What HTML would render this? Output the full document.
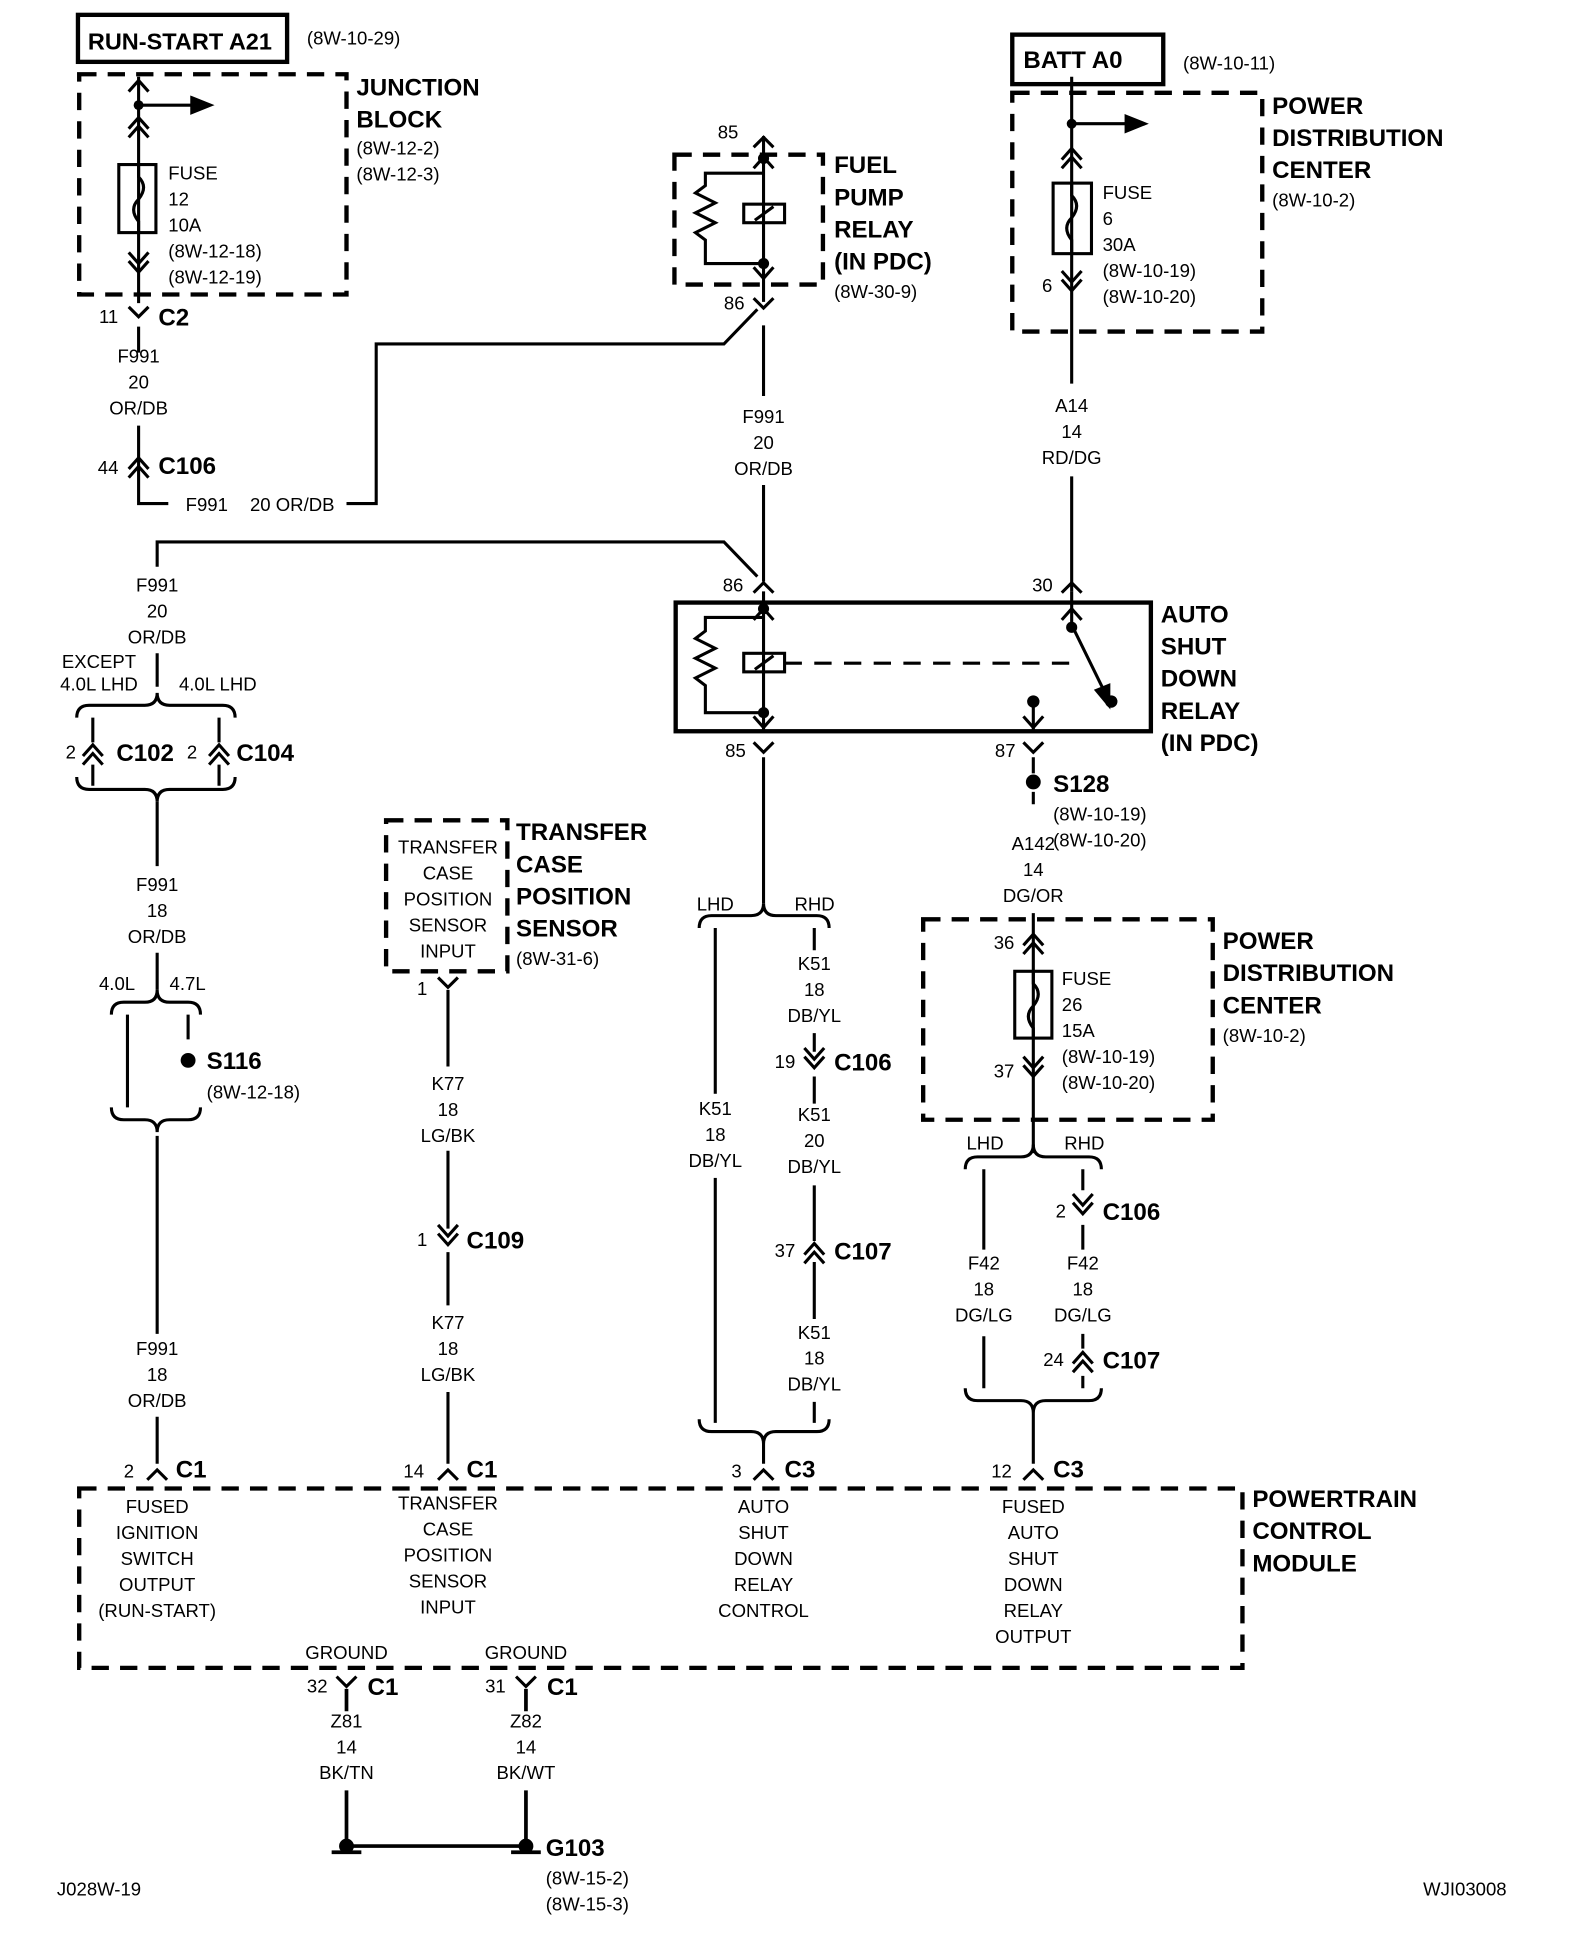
<!DOCTYPE html>
<html><head><meta charset="utf-8"><style>
html,body{margin:0;padding:0;background:#fff}
svg{display:block}
text{font-family:"Liberation Sans",sans-serif;font-size:15px;fill:#000}
.b{font-weight:bold;font-size:19.5px}
.m{text-anchor:middle}
</style></head><body>
<svg width="1584" height="1950" viewBox="0 0 1280 1576" preserveAspectRatio="none" xmlns="http://www.w3.org/2000/svg">
<defs>
<g id="du" fill="none" stroke="#000" stroke-width="2.5"><path d="M-8,4 L0,-5 L8,4 M-8,11 L0,2 L8,11"/></g>
<g id="dd" fill="none" stroke="#000" stroke-width="2.5"><path d="M-8,-4 L0,5 L8,-4 M-8,-11 L0,-2 L8,-11"/></g>
<g id="u1" fill="none" stroke="#000" stroke-width="2.5"><path d="M-8,6 L0,-3 L8,6"/></g>
<g id="d1" fill="none" stroke="#000" stroke-width="2.5"><path d="M-8,-6 L0,3 L8,-6"/></g>
<g id="Y" fill="none" stroke="#000" stroke-width="2.5"><path d="M-8,-7 L0,1 L8,-7"/></g>
<g id="A" fill="none" stroke="#000" stroke-width="2.5"><path d="M-8,7 L0,-1 L8,7"/></g>
</defs>
<g fill="none" stroke="#000" stroke-width="2.5">
<rect x="63" y="12" width="169" height="38" stroke-width="3.5"/>
<rect x="64" y="60" width="216" height="178" stroke-width="3.5" stroke-dasharray="14,9"/>
<path d="M112,62 V245 M112,264 V285 M112,344 V400 M112,385 V407 H136 M280,407 H304 V278 H585 L612,250"/>
<path d="M112,85 H160"/><path d="M155,79 L170,85 L155,91Z" fill="#000"/>
<rect x="96" y="133" width="30" height="55"/>
<path d="M112,133 V143 q8,8 0,18 q-8,8 0,18 V188" />
<rect x="545" y="125" width="120" height="105" stroke-width="3.5" stroke-dasharray="14,9"/>
<path d="M617,110 V244 M617,263 V320 M617,392 V470"/>
<path d="M617,140 H570 V150 l-8,6 l16,8 l-16,8 l16,8 l-16,8 l8,6 V213 H617"/>
<rect x="601" y="165" width="33" height="15"/><path d="M610,178 L625,167"/>
<path d="M127,458 V438 H585 L612,466"/>
<rect x="546" y="487" width="384" height="104" stroke-width="3.5"/>
<path d="M617,478 V592 M617,612 V730"/>
<path d="M617,499 H570 V510 l-8,6 l16,8 l-16,8 l16,8 l-16,8 l8,6 V576 H617"/>
<rect x="601" y="528" width="33" height="15"/><path d="M610,541 L625,530"/>
<path d="M634,536 H870" stroke-dasharray="14,10"/>
<path d="M866,478 V505 L893,560"/><path d="M886,558 L896,570 L896,554Z" fill="#000"/>
<path d="M835,567 V592 M835,612 V625 M835,640 V650"/>
<path d="M866,478 V385 M866,62 V310"/>
<rect x="818" y="28" width="122" height="40" stroke-width="3.5"/>
<rect x="818" y="75" width="202" height="193" stroke-width="3.5" stroke-dasharray="14,9"/>
<path d="M866,100 H915"/><path d="M910,94 L925,100 L910,106Z" fill="#000"/>
<rect x="851" y="148" width="31" height="57"/>
<path d="M866,148 V158 q8,8 0,18 q-8,8 0,18 V205"/>
<rect x="746" y="743" width="234" height="162" stroke-width="3.5" stroke-dasharray="14,9"/>
<path d="M835,738 V932"/>
<rect x="820" y="785" width="30" height="54"/>
<path d="M835,785 V795 q8,8 0,18 q-8,8 0,18 V839"/>
<path d="M780,945 q0,-10 10,-10 H825 q10,0 10,-10 q0,10 10,10 H880 q10,0 10,10"/>
<path d="M795,945 V1010 M795,1080 V1122 M875,945 V962 M875,990 V1010 M875,1078 V1090 M875,1112 V1122"/>
<path d="M780,1122 q0,10 10,10 H825 q10,0 10,10 q0,-10 10,-10 H880 q10,0 10,-10"/>
<path d="M835,1142 V1183"/>
<path d="M565,750 q0,-10 10,-10 H607 q10,0 10,-10 q0,10 10,10 H660 q10,0 10,10"/>
<path d="M578,750 V1150 M658,750 V768 M658,835 V850 M658,870 V892 M658,958 V1003 M658,1020 V1066 M658,1133 V1150"/>
<path d="M565,1147 q0,10 10,10 H607 q10,0 10,10 q0,-10 10,-10 H660 q10,0 10,-10"/>
<path d="M617,1167 V1183"/>
<path d="M127,528 V545 M127,545 V555"/>
<path d="M62,580 q0,-10 10,-10 H117 q10,0 10,-10 q0,10 10,10 H180 q10,0 10,10"/>
<path d="M75,580 V600 M75,618 V635 M177,580 V600 M177,618 V635"/>
<path d="M62,628 q0,10 10,10 H117 q10,0 10,10 q0,-10 10,-10 H180 q10,0 10,-10"/>
<path d="M127,648 V700 M127,770 V800"/>
<path d="M90,820 q0,-10 10,-10 H117 q10,0 10,-10 q0,10 10,10 H152 q10,0 10,10"/>
<path d="M103,820 V895 M152,820 V840"/>
<path d="M90,895 q0,10 10,10 H117 q10,0 10,10 q0,-10 10,-10 H152 q10,0 10,-10"/>
<path d="M127,918 V1078 M127,1145 V1183"/>
<rect x="312" y="663" width="98" height="122" stroke-width="3.5" stroke-dasharray="14,9"/>
<path d="M362,800 V862 M362,930 V993 M362,1012 V1055 M362,1125 V1183"/>
<rect x="64" y="1203" width="940" height="145" stroke-width="3.5" stroke-dasharray="14,9"/>
<path d="M280,1365 V1383 M280,1447 V1490 M425,1365 V1383 M425,1447 V1490 M280,1492 H425" stroke-width="3"/>
<path d="M268,1497 H292 M413,1497 H437" stroke-width="3"/>
</g>
<rect x="560" y="884" width="36" height="68" fill="#fff"/>
<g fill="#000">
<circle cx="112" cy="85" r="4"/><circle cx="617" cy="128" r="4.5"/><circle cx="617" cy="213" r="4.5"/>
<circle cx="617" cy="492" r="4.5"/><circle cx="617" cy="576" r="4.5"/><circle cx="866" cy="507" r="4.5"/>
<circle cx="898" cy="567" r="5"/><circle cx="835" cy="567" r="5"/><circle cx="866" cy="100" r="4"/>
<circle cx="835" cy="632" r="6"/><circle cx="152" cy="857" r="6"/>
<circle cx="280" cy="1492" r="6"/><circle cx="425" cy="1492" r="6"/>
</g>
<use href="#u1" x="112" y="68"/><use href="#du" x="112" y="100"/><use href="#dd" x="112" y="215"/>
<use href="#Y" x="112" y="255"/><use href="#du" x="112" y="375"/>
<use href="#A" x="617" y="112"/><use href="#u1" x="617" y="130"/><use href="#d1" x="617" y="222"/><use href="#Y" x="617" y="248"/>
<use href="#A" x="617" y="472"/><use href="#u1" x="617" y="495"/><use href="#d1" x="617" y="585"/><use href="#Y" x="617" y="607"/>
<use href="#A" x="866" y="472"/><use href="#u1" x="866" y="495"/><use href="#d1" x="835" y="585"/><use href="#Y" x="835" y="607"/>
<use href="#du" x="866" y="125"/><use href="#dd" x="866" y="230"/>
<use href="#du" x="835" y="760"/><use href="#dd" x="835" y="865"/>
<use href="#dd" x="875" y="976"/><use href="#du" x="875" y="1098"/><use href="#A" x="835" y="1189"/>
<use href="#dd" x="658" y="858"/><use href="#du" x="658" y="1010"/><use href="#A" x="617" y="1189"/>
<use href="#du" x="75" y="607"/><use href="#du" x="177" y="607"/><use href="#A" x="127" y="1189"/>
<use href="#Y" x="362" y="797"/><use href="#dd" x="362" y="1001"/><use href="#A" x="362" y="1189"/>
<use href="#Y" x="280" y="1362"/><use href="#Y" x="425" y="1362"/>
<text class="b" x="71" y="40" style="font-size:19px">RUN-START A21</text>
<text x="248" y="36">(8W-10-29)</text>
<text class="b" x="288" y="77">JUNCTION</text><text class="b" x="288" y="103">BLOCK</text>
<text x="288" y="125">(8W-12-2)</text><text x="288" y="146">(8W-12-3)</text>
<text x="136" y="145">FUSE</text><text x="136" y="166">12</text><text x="136" y="187">10A</text><text x="136" y="208">(8W-12-18)</text><text x="136" y="229">(8W-12-19)</text>
<text x="80" y="261">11</text><text class="b" x="128" y="263">C2</text>
<text class="m" x="112" y="293">F991</text><text class="m" x="112" y="314">20</text><text class="m" x="112" y="335">OR/DB</text>
<text x="79" y="383">44</text><text class="b" x="128" y="383">C106</text>
<text x="150" y="413">F991</text><text x="202" y="413">20 OR/DB</text>
<text x="580" y="112">85</text><text x="585" y="250">86</text>
<text class="b" x="674" y="140">FUEL</text><text class="b" x="674" y="166">PUMP</text><text class="b" x="674" y="192">RELAY</text><text class="b" x="674" y="218">(IN PDC)</text>
<text x="674" y="241">(8W-30-9)</text>
<text class="m" x="617" y="342">F991</text><text class="m" x="617" y="363">20</text><text class="m" x="617" y="384">OR/DB</text>
<text class="b" x="827" y="55">BATT A0</text><text x="956" y="56">(8W-10-11)</text>
<text class="b" x="1028" y="92">POWER</text><text class="b" x="1028" y="118">DISTRIBUTION</text><text class="b" x="1028" y="144">CENTER</text><text x="1028" y="167">(8W-10-2)</text>
<text x="891" y="161">FUSE</text><text x="891" y="182">6</text><text x="891" y="203">30A</text><text x="891" y="224">(8W-10-19)</text><text x="891" y="245">(8W-10-20)</text>
<text x="842" y="236">6</text>
<text class="m" x="866" y="333">A14</text><text class="m" x="866" y="354">14</text><text class="m" x="866" y="375">RD/DG</text>
<text class="m" x="127" y="478">F991</text><text class="m" x="127" y="499">20</text><text class="m" x="127" y="520">OR/DB</text>
<text x="584" y="478">86</text><text x="834" y="478">30</text>
<text class="b" x="938" y="503">AUTO</text><text class="b" x="938" y="529">SHUT</text><text class="b" x="938" y="555">DOWN</text><text class="b" x="938" y="581">RELAY</text><text class="b" x="938" y="607">(IN PDC)</text>
<text x="586" y="612">85</text><text x="804" y="612">87</text>
<text class="b" x="851" y="640">S128</text><text x="851" y="663">(8W-10-19)</text><text x="851" y="684">(8W-10-20)</text>
<text class="m" x="835" y="687">A142</text><text class="m" x="835" y="708">14</text><text class="m" x="835" y="729">DG/OR</text>
<text x="803" y="767">36</text><text x="803" y="871">37</text>
<text x="858" y="796">FUSE</text><text x="858" y="817">26</text><text x="858" y="838">15A</text><text x="858" y="859">(8W-10-19)</text><text x="858" y="880">(8W-10-20)</text>
<text class="b" x="988" y="767">POWER</text><text class="b" x="988" y="793">DISTRIBUTION</text><text class="b" x="988" y="819">CENTER</text><text x="988" y="842">(8W-10-2)</text>
<text x="781" y="929">LHD</text><text x="860" y="929">RHD</text>
<text x="853" y="984">2</text><text class="b" x="891" y="986">C106</text>
<text class="m" x="795" y="1026">F42</text><text class="m" x="795" y="1047">18</text><text class="m" x="795" y="1068">DG/LG</text>
<text class="m" x="875" y="1026">F42</text><text class="m" x="875" y="1047">18</text><text class="m" x="875" y="1068">DG/LG</text>
<text x="843" y="1104">24</text><text class="b" x="891" y="1106">C107</text>
<text x="801" y="1194">12</text><text class="b" x="851" y="1194">C3</text>
<text x="563" y="736">LHD</text><text x="642" y="736">RHD</text>
<text class="m" x="658" y="784">K51</text><text class="m" x="658" y="805">18</text><text class="m" x="658" y="826">DB/YL</text>
<text x="626" y="863">19</text><text class="b" x="674" y="865">C106</text>
<text class="m" x="658" y="906">K51</text><text class="m" x="658" y="927">20</text><text class="m" x="658" y="948">DB/YL</text>
<text x="626" y="1016">37</text><text class="b" x="674" y="1018">C107</text>
<text class="m" x="658" y="1082">K51</text><text class="m" x="658" y="1103">18</text><text class="m" x="658" y="1124">DB/YL</text>
<text class="m" x="578" y="901">K51</text><text class="m" x="578" y="922">18</text><text class="m" x="578" y="943">DB/YL</text>
<text x="591" y="1194">3</text><text class="b" x="634" y="1194">C3</text>
<text class="m" x="80" y="540">EXCEPT</text><text class="m" x="80" y="558">4.0L LHD</text><text class="m" x="176" y="558">4.0L LHD</text>
<text x="53" y="613">2</text><text class="b" x="94" y="615">C102</text><text x="151" y="613">2</text><text class="b" x="191" y="615">C104</text>
<text class="m" x="127" y="720">F991</text><text class="m" x="127" y="741">18</text><text class="m" x="127" y="762">OR/DB</text>
<text x="80" y="800">4.0L</text><text x="137" y="800">4.7L</text>
<text class="b" x="167" y="864">S116</text><text x="167" y="888">(8W-12-18)</text>
<text class="m" x="127" y="1095">F991</text><text class="m" x="127" y="1116">18</text><text class="m" x="127" y="1137">OR/DB</text>
<text x="100" y="1194">2</text><text class="b" x="142" y="1194">C1</text>
<text class="m" x="362" y="690">TRANSFER</text><text class="m" x="362" y="711">CASE</text><text class="m" x="362" y="732">POSITION</text><text class="m" x="362" y="753">SENSOR</text><text class="m" x="362" y="774">INPUT</text>
<text class="b" x="417" y="679">TRANSFER</text><text class="b" x="417" y="705">CASE</text><text class="b" x="417" y="731">POSITION</text><text class="b" x="417" y="757">SENSOR</text><text x="417" y="780">(8W-31-6)</text>
<text x="337" y="804">1</text>
<text class="m" x="362" y="881">K77</text><text class="m" x="362" y="902">18</text><text class="m" x="362" y="923">LG/BK</text>
<text x="337" y="1007">1</text><text class="b" x="377" y="1009">C109</text>
<text class="m" x="362" y="1074">K77</text><text class="m" x="362" y="1095">18</text><text class="m" x="362" y="1116">LG/BK</text>
<text x="326" y="1194">14</text><text class="b" x="377" y="1194">C1</text>
<text class="m" x="127" y="1223">FUSED</text><text class="m" x="127" y="1244">IGNITION</text><text class="m" x="127" y="1265">SWITCH</text><text class="m" x="127" y="1286">OUTPUT</text><text class="m" x="127" y="1307">(RUN-START)</text>
<text class="m" x="362" y="1220">TRANSFER</text><text class="m" x="362" y="1241">CASE</text><text class="m" x="362" y="1262">POSITION</text><text class="m" x="362" y="1283">SENSOR</text><text class="m" x="362" y="1304">INPUT</text>
<text class="m" x="617" y="1223">AUTO</text><text class="m" x="617" y="1244">SHUT</text><text class="m" x="617" y="1265">DOWN</text><text class="m" x="617" y="1286">RELAY</text><text class="m" x="617" y="1307">CONTROL</text>
<text class="m" x="835" y="1223">FUSED</text><text class="m" x="835" y="1244">AUTO</text><text class="m" x="835" y="1265">SHUT</text><text class="m" x="835" y="1286">DOWN</text><text class="m" x="835" y="1307">RELAY</text><text class="m" x="835" y="1328">OUTPUT</text>
<text class="b" x="1012" y="1218">POWERTRAIN</text><text class="b" x="1012" y="1244">CONTROL</text><text class="b" x="1012" y="1270">MODULE</text>
<text class="m" x="280" y="1341">GROUND</text><text class="m" x="425" y="1341">GROUND</text>
<text x="248" y="1368">32</text><text class="b" x="297" y="1370">C1</text><text x="392" y="1368">31</text><text class="b" x="442" y="1370">C1</text>
<text class="m" x="280" y="1396">Z81</text><text class="m" x="280" y="1417">14</text><text class="m" x="280" y="1438">BK/TN</text>
<text class="m" x="425" y="1396">Z82</text><text class="m" x="425" y="1417">14</text><text class="m" x="425" y="1438">BK/WT</text>
<text class="b" x="441" y="1500">G103</text><text x="441" y="1523">(8W-15-2)</text><text x="441" y="1544">(8W-15-3)</text>
<text x="46" y="1532">J028W-19</text><text x="1150" y="1532">WJI03008</text>
</svg>
</body></html>
